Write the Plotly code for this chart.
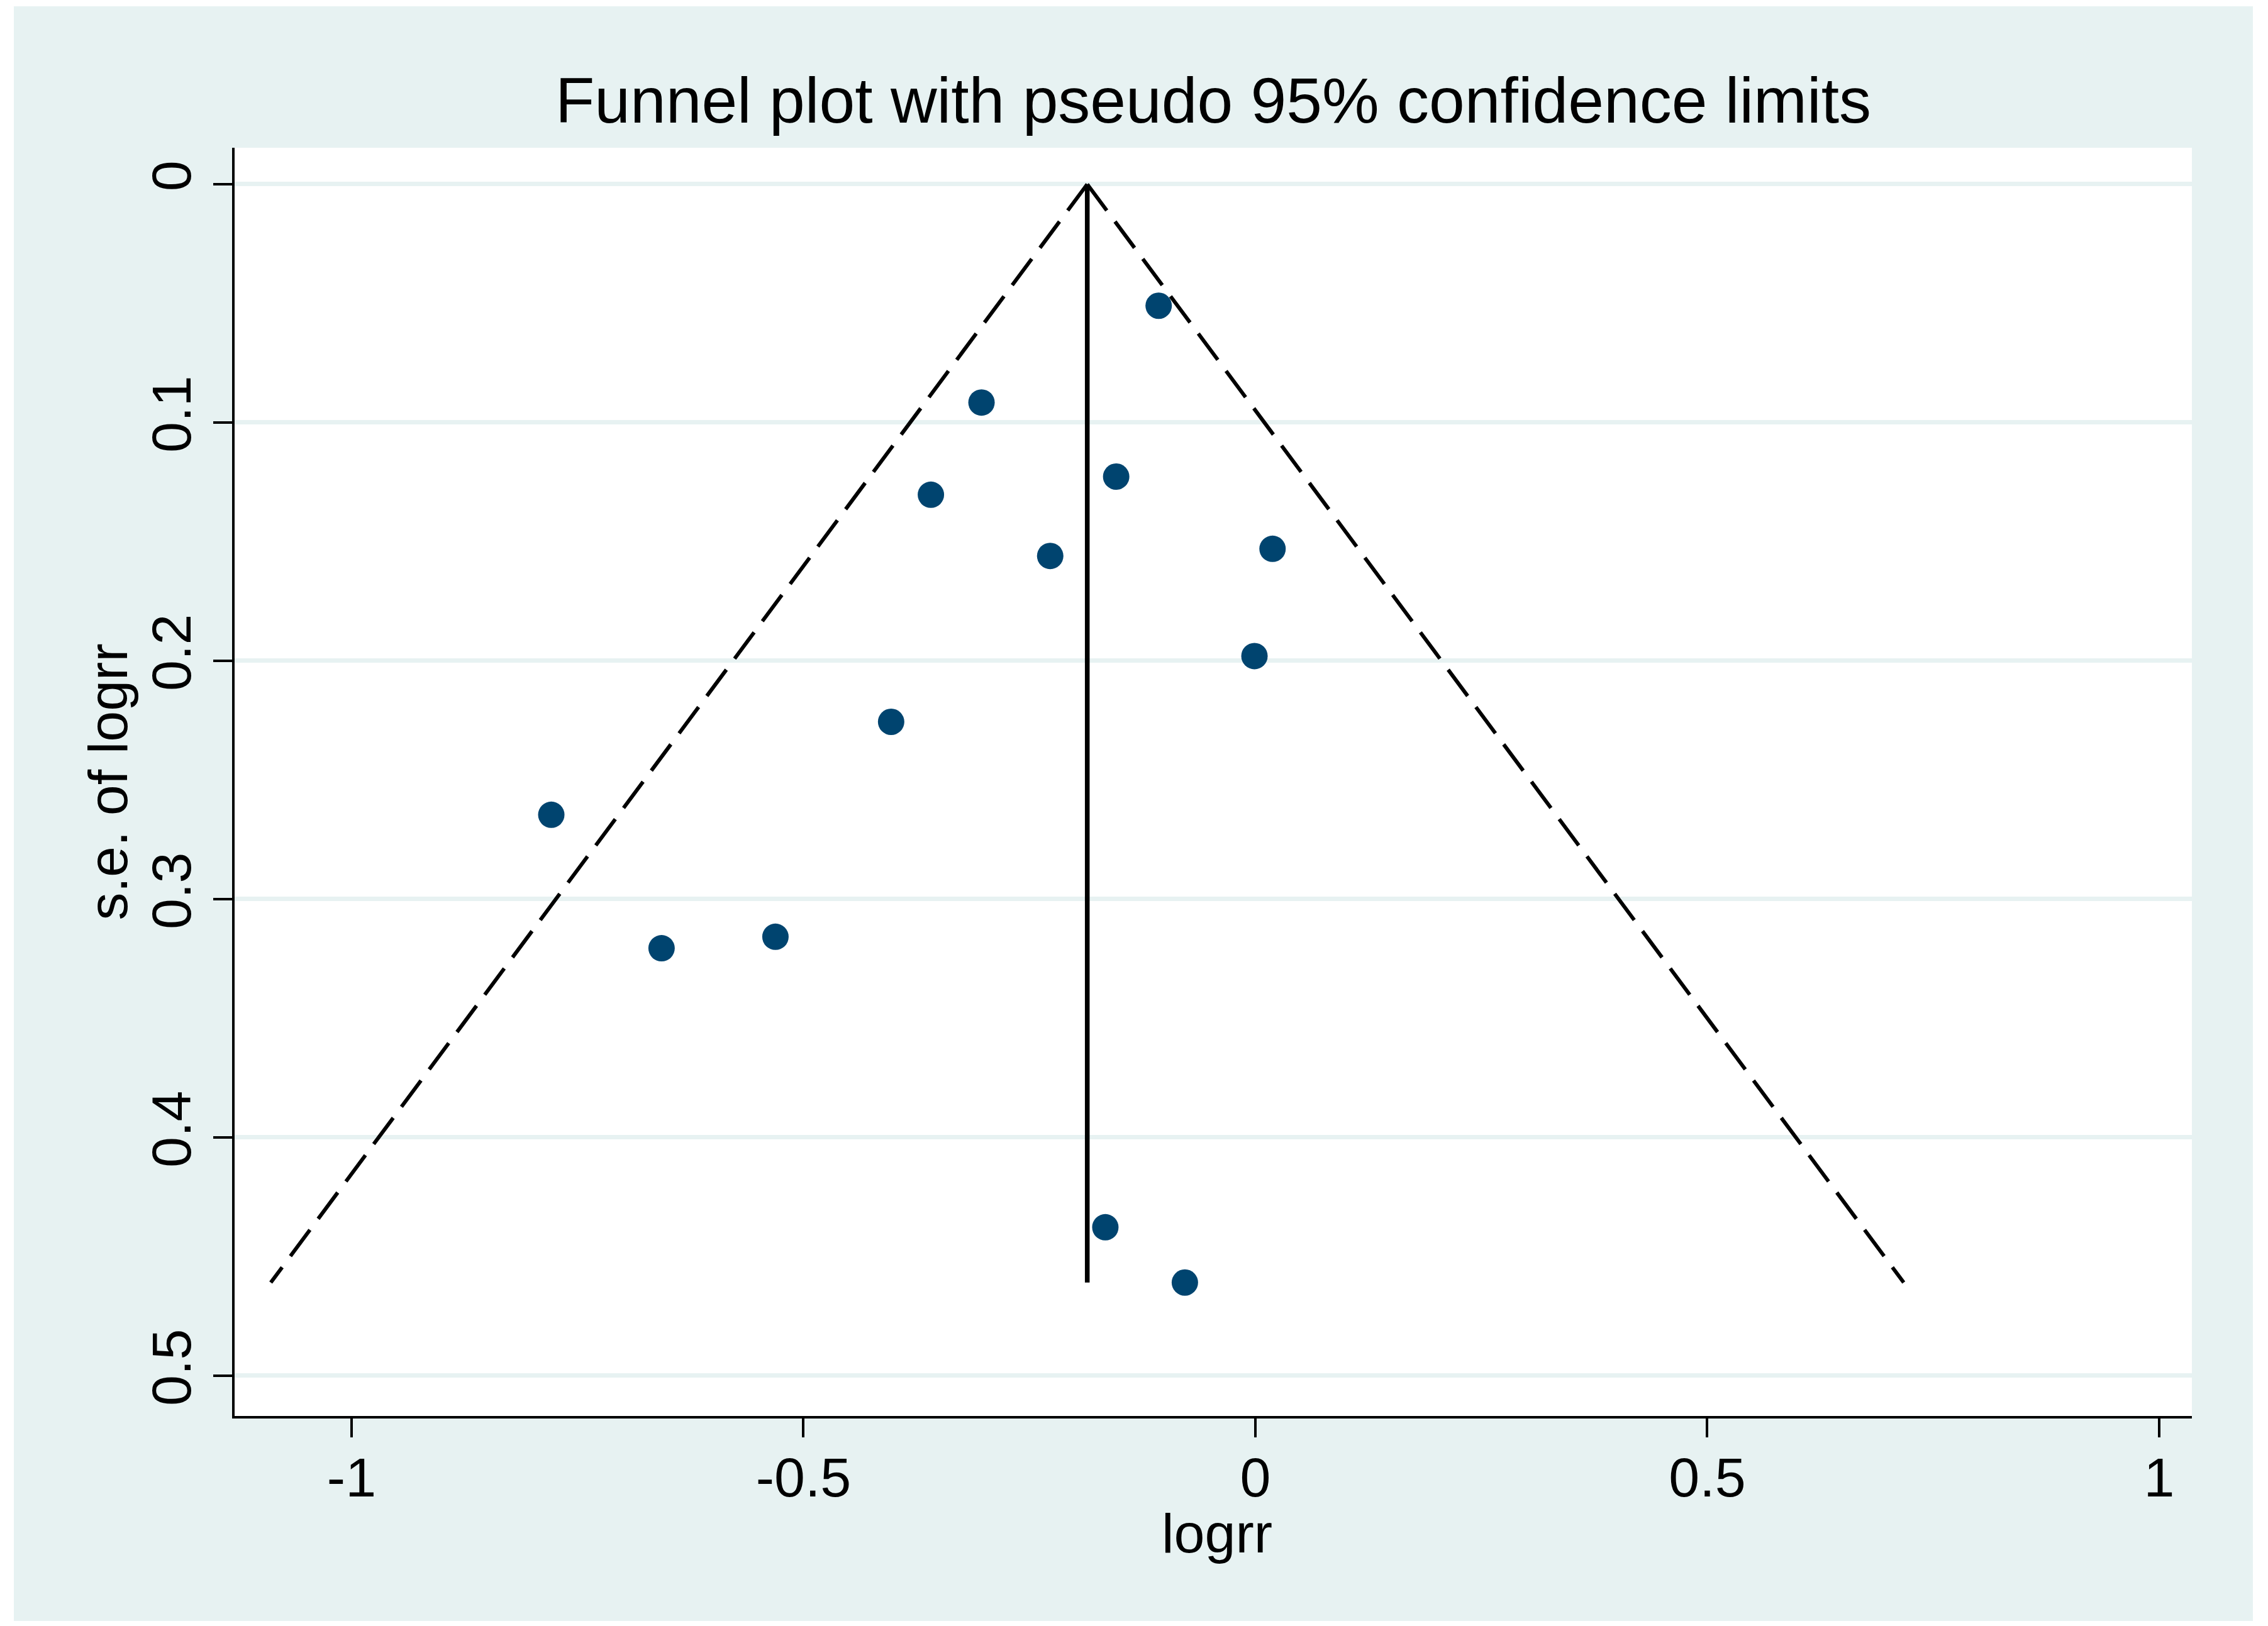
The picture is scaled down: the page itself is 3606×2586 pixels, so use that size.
import plotly.graph_objects as go

# study estimates
LOGRR = [-0.107, -0.303, -0.154, -0.359, -0.227, 0.019, -0.001,
         -0.403, -0.779, -0.657, -0.531, -0.166, -0.078]
SE_LOGRR = [0.051, 0.0916, 0.1227, 0.1303, 0.156, 0.153, 0.198,
            0.2256, 0.2646, 0.3206, 0.3158, 0.4377, 0.4609]
POOLED_LOGRR = -0.186
Z_95 = 1.96

X_TICKS = [-1, -0.5, 0, 0.5, 1]
X_TICK_TEXT = ["-1", "-0.5", "0", "0.5", "1"]
Y_TICKS = [0, 0.1, 0.2, 0.3, 0.4, 0.5]
Y_TICK_TEXT = ["0", "0.1", "0.2", "0.3", "0.4", "0.5"]

# page body adds an 8px offset, so the figure is a touch smaller than the window
CANVAS_WIDTH = 3598
CANVAS_HEIGHT = 2578
FONT = "Liberation Sans, Arial, sans-serif"
REGION_COLOR = "rgb(231,242,242)"
MARKER_COLOR = "#00446f"

fig = go.Figure()

se_max = max(SE_LOGRR)

# pseudo 95% limits, each drawn from the apex down
for sign in (-1, 1):
    fig.add_trace(go.Scatter(
        x=[POOLED_LOGRR, POOLED_LOGRR + sign * Z_95 * se_max],
        y=[0, se_max],
        mode="lines",
        line=dict(color="black", width=6, dash="52px,22px"),
        hoverinfo="skip",
    ))

# pooled estimate
fig.add_trace(go.Scatter(
    x=[POOLED_LOGRR, POOLED_LOGRR],
    y=[0, se_max],
    mode="lines",
    line=dict(color="black", width=7.5),
    hoverinfo="skip",
))

fig.add_trace(go.Scatter(
    x=LOGRR, y=SE_LOGRR,
    mode="markers",
    marker=dict(size=42, color=MARKER_COLOR, line=dict(width=0)),
))

fig.update_layout(
    title=dict(
        text="Funnel plot with pseudo 95% confidence limits",
        x=0.5, xref="paper", xanchor="center",
        y=1 - 151 / CANVAS_HEIGHT, yref="container", yanchor="middle",
        font=dict(family=FONT, size=102, color="black"),
    ),
    showlegend=False,
    width=CANVAS_WIDTH,
    height=CANVAS_HEIGHT,
    margin=dict(l=365, r=121, t=227, b=334, pad=0),
    paper_bgcolor="white",
    plot_bgcolor="white",
    font=dict(family=FONT, size=88, color="black"),
    xaxis=dict(
        range=[-1.1294, 1.0362],
        tickvals=X_TICKS, ticktext=X_TICK_TEXT,
        showgrid=False, zeroline=False,
        showline=True, linecolor="black", linewidth=4,
        ticks="outside", ticklen=30, tickwidth=4, tickcolor="black",
        tickfont=dict(family=FONT, size=88),
        ticklabelstandoff=-12,
    ),
    yaxis=dict(
        range=[0.5169, -0.0153],
        tickvals=Y_TICKS, ticktext=Y_TICK_TEXT,
        tickangle=-90,
        showgrid=True, gridcolor=REGION_COLOR, gridwidth=7,
        zeroline=False,
        showline=True, linecolor="black", linewidth=4,
        ticks="outside", ticklen=30, tickwidth=4, tickcolor="black",
        tickfont=dict(family=FONT, size=88),
        ticklabelstandoff=1,
    ),
    # axis titles placed by hand to sit where Stata puts them
    annotations=[
        dict(text="logrr", xref="paper", yref="paper", x=0.5019, y=-0.0925,
             xanchor="center", yanchor="middle", showarrow=False,
             font=dict(family=FONT, size=88, color="black")),
        dict(text="s.e. of logrr", xref="paper", yref="paper", x=-0.0646, y=0.5,
             xanchor="center", yanchor="middle", textangle=-90, showarrow=False,
             font=dict(family=FONT, size=88, color="black")),
    ],
    shapes=[
        # Stata-style graph region with a thin white border
        dict(type="rect", xref="paper", yref="paper", layer="below",
             x0=(14 - 365) / 3112, x1=(3574 - 365) / 3112,
             y0=(2244 - 2570) / 2017, y1=(2244 - 2) / 2017,
             fillcolor=REGION_COLOR, line=dict(width=0)),
        dict(type="rect", xref="paper", yref="paper", layer="below",
             x0=0, x1=1, y0=0, y1=1,
             fillcolor="white", line=dict(width=0)),
    ],
)

fig.write_html("out.html")
